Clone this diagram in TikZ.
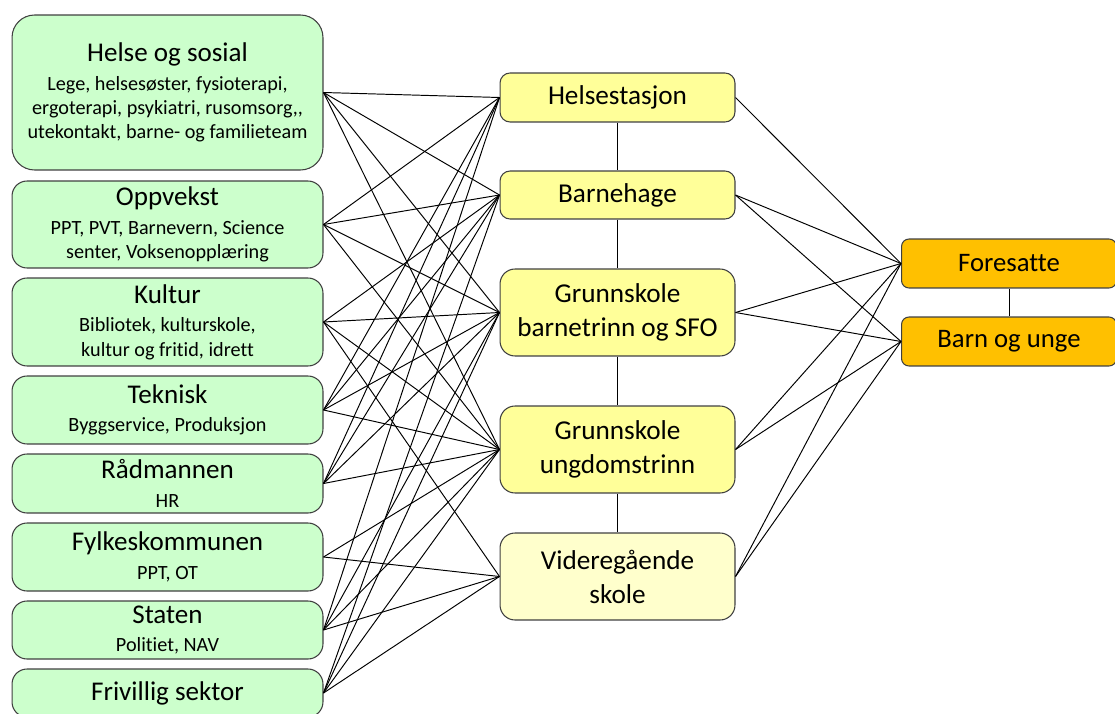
\documentclass[tikz,border=0pt]{standalone}
\usepackage{fontspec}
\setmainfont{Carlito}[Ligatures={NoCommon}]
\usepackage{tikz}

\definecolor{gronn}{RGB}{204,255,204}
\definecolor{gul}{RGB}{255,255,153}
\definecolor{lysgul}{RGB}{255,255,204}
\definecolor{oransje}{RGB}{255,192,0}

\begin{document}
\begin{tikzpicture}[x=0.02cm,y=-0.02cm]
      \newcommand{\overskrift}[1]{{\fontsize{15.4}{18}\selectfont #1}}
      \tikzstyle{edge}  = [draw=black, line width=0.55pt]
      \tikzstyle{sektor}=[
        rectangle,
        draw=black!75,
        line width=0.6pt,
        fill=gronn,
        rounded corners=0.3cm,
        minimum width=6.22cm,
        inner sep=0pt,
        align=center,
        font=\fontsize{11.5}{13.8}\selectfont,
      ]
      \tikzstyle{tilbud}=[
        rectangle,
        draw=black!75,
        line width=0.6pt,
        fill=gul,
        rounded corners=0.2cm,
        minimum width=4.7cm,
        inner sep=0pt,
        align=center,
        font=\fontsize{15.5}{19.3}\selectfont,
      ]
      \tikzstyle{bruker}=[
        rectangle,
        draw=black!75,
        line width=0.6pt,
        fill=oransje,
        rounded corners=0.15cm,
        minimum width=4.3cm,
        minimum height=0.98cm,
        inner sep=0pt,
        font=\fontsize{15.2}{18}\selectfont,
      ]

      \useasboundingbox (0,0) rectangle (1115,713);

      \node[sektor, minimum height=3.1cm, rounded corners=0.45cm] (helse) at (167.5,92.5) {\overskrift{Helse og sosial}\\[2.5pt] Lege, helsesøster, fysioterapi,\\ ergoterapi, psykiatri, rusomsorg,{},\\ utekontakt, barne- og familieteam};
      \node[sektor, minimum height=1.74cm] (oppvekst) at (167.5,224.5) {\overskrift{Oppvekst}\\[2.5pt] PPT, PVT, Barnevern, Science\\ senter, Voksenopplæring};
      \node[sektor, minimum height=1.76cm] (kultur) at (167.5,322) {\overskrift{Kultur}\\[2.5pt] Bibliotek, kulturskole,\\ kultur og fritid, idrett};
      \node[sektor, minimum height=1.36cm] (teknisk) at (167.5,410) {\overskrift{Teknisk}\\[2.5pt] Byggservice, Produksjon};
      \node[sektor, minimum height=1.18cm] (radmann) at (167.5,483.5) {\overskrift{Rådmannen}\\[2.5pt] HR};
      \node[sektor, minimum height=1.36cm] (fylke) at (167.5,557) {\overskrift{Fylkeskommunen}\\[2.5pt] PPT, OT};
      \node[sektor, minimum height=1.16cm] (staten) at (167.5,630) {\overskrift{Staten}\\[2.5pt] Politiet, NAV};
      \node[sektor, minimum height=0.96cm] (frivillig) at (167.5,693) {\overskrift{Frivillig sektor}};

      \node[tilbud, minimum height=0.98cm] (hstasjon) at (617.5,97.5) {Helsestasjon};
      \node[tilbud, minimum height=0.96cm] (bhage) at (617.5,195) {Barnehage};
      \node[tilbud, minimum height=1.74cm, rounded corners=0.3cm] (gsbarn) at (617.5,312.5) {Grunnskole\\ barnetrinn og SFO};
      \node[tilbud, minimum height=1.74cm, rounded corners=0.3cm] (gsungdom) at (617.5,449.5) {Grunnskole\\ ungdomstrinn};
      \node[tilbud, minimum height=1.74cm, rounded corners=0.3cm, fill=lysgul] (vgs) at (617.5,576.5) {Videregående\\ skole};

      \node[bruker] (foresatte) at (1009,263.5) {Foresatte};
      \node[bruker] (barn) at (1009,341.5) {Barn og unge};

      \draw[edge] (hstasjon)--(bhage);
      \draw[edge] (bhage)--(gsbarn);
      \draw[edge] (gsbarn)--(gsungdom);
      \draw[edge] (gsungdom)--(vgs);
      \draw[edge] (foresatte)--(barn);

      \draw[edge] (helse.east)--(hstasjon.west);
      \draw[edge] (helse.east)--(bhage.west);
      \draw[edge] (helse.east)--(gsbarn.west);
      \draw[edge] (helse.east)--(gsungdom.west);
      \draw[edge] (oppvekst.east)--(hstasjon.west);
      \draw[edge] (oppvekst.east)--(bhage.west);
      \draw[edge] (oppvekst.east)--(gsbarn.west);
      \draw[edge] (oppvekst.east)--(gsungdom.west);
      \draw[edge] (kultur.east)--(bhage.west);
      \draw[edge] (kultur.east)--(gsbarn.west);
      \draw[edge] (kultur.east)--(gsungdom.west);
      \draw[edge] (kultur.east)--(vgs.west);
      \draw[edge] (teknisk.east)--(hstasjon.west);
      \draw[edge] (teknisk.east)--(bhage.west);
      \draw[edge] (teknisk.east)--(gsbarn.west);
      \draw[edge] (teknisk.east)--(gsungdom.west);
      \draw[edge] (radmann.east)--(hstasjon.west);
      \draw[edge] (radmann.east)--(bhage.west);
      \draw[edge] (radmann.east)--(gsbarn.west);
      \draw[edge] (radmann.east)--(gsungdom.west);
      \draw[edge] (fylke.east)--(gsungdom.west);
      \draw[edge] (fylke.east)--(vgs.west);
      \draw[edge] (staten.east)--(hstasjon.west);
      \draw[edge] (staten.east)--(gsbarn.west);
      \draw[edge] (staten.east)--(gsungdom.west);
      \draw[edge] (staten.east)--(vgs.west);
      \draw[edge] (frivillig.east)--(bhage.west);
      \draw[edge] (frivillig.east)--(gsbarn.west);
      \draw[edge] (frivillig.east)--(gsungdom.west);
      \draw[edge] (frivillig.east)--(vgs.west);

      \draw[edge] (hstasjon.east)--(foresatte.west);
      \draw[edge] (bhage.east)--(foresatte.west);
      \draw[edge] (bhage.east)--(barn.west);
      \draw[edge] (gsbarn.east)--(foresatte.west);
      \draw[edge] (gsbarn.east)--(barn.west);
      \draw[edge] (gsungdom.east)--(foresatte.west);
      \draw[edge] (gsungdom.east)--(barn.west);
      \draw[edge] (vgs.east)--(foresatte.west);
      \draw[edge] (vgs.east)--(barn.west);
    \end{tikzpicture}
\end{document}
